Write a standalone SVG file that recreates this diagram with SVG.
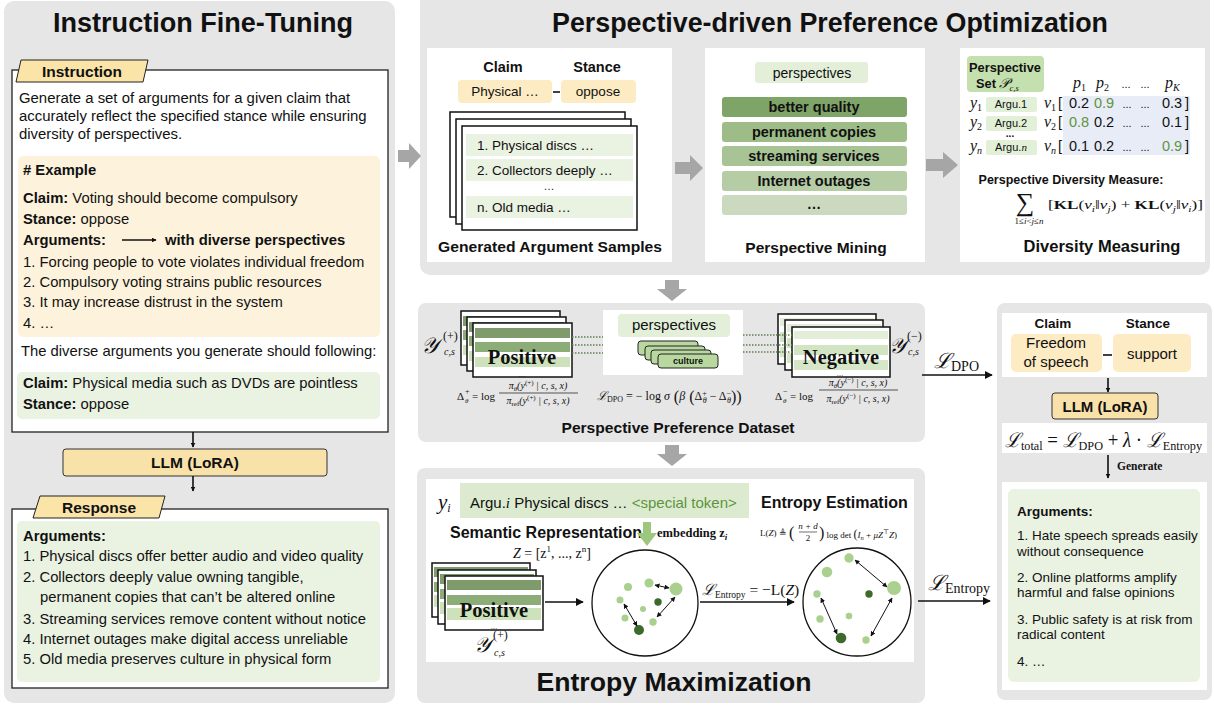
<svg xmlns="http://www.w3.org/2000/svg" width="1214" height="707" viewBox="0 0 1214 707">
<defs>
<marker id="ah" viewBox="0 0 10 10" refX="9" refY="5" markerWidth="8" markerHeight="8" orient="auto-start-reverse" markerUnits="userSpaceOnUse"><path d="M0,0 L10,5 L0,10 z" fill="#111"/></marker>
<marker id="ahs" viewBox="0 0 10 10" refX="9" refY="5" markerWidth="5" markerHeight="5" orient="auto-start-reverse" markerUnits="userSpaceOnUse"><path d="M0,0 L10,5 L0,10 z" fill="#111"/></marker>
</defs>
<style>
text{font-family:"Liberation Sans",Arial,sans-serif;fill:#111}
.b{font-weight:bold}
.m{font-family:"Liberation Serif","DejaVu Serif",serif}
.i{font-style:italic}
.c{text-anchor:middle}
.panel{fill:#e6e6e6}
.white{fill:#fff}
.yel{fill:#fdf3dc}
.grn{fill:#eaf2e2}
.card{fill:#fff;stroke:#111;stroke-width:1.5}
.blk{stroke:#111;stroke-width:1.6;fill:none}
.thin{stroke:#111;stroke-width:1;fill:none}
.garrow{fill:#a6a6a6}
.dot{stroke:#5f7f4f;stroke-width:1.6;stroke-dasharray:1.5 1.5;fill:none}
.lt{fill:#a9d08e}
.dk{fill:#3c6a2a}
.gtx{fill:#5e9440}
.body{font-size:14.8px}
</style>

<!-- ============ LEFT PANEL ============ -->
<g id="panel-instruction-fine-tuning">
<rect x="4" y="1" width="391" height="702" rx="10" class="panel"/>
<text x="203" y="32" class="b c" font-size="27" textLength="300" lengthAdjust="spacingAndGlyphs">Instruction Fine-Tuning</text>
</g>

<g id="instruction">
<rect x="12" y="70" width="376" height="362" fill="#fff" stroke="#222" stroke-width="1.3"/>
<polygon points="21,60 148,60 143,82 16,82" fill="#fbe4a8" stroke="#222" stroke-width="1"/>
<text x="82" y="77" class="b c" font-size="15.5">Instruction</text>
<text x="19" y="103" font-size="14.9">Generate a set of arguments for a given claim that</text>
<text x="19" y="121" font-size="14.9">accurately reflect the specified stance while ensuring</text>
<text x="19" y="139" font-size="14.9">diversity of perspectives.</text>
<rect x="18" y="156" width="362" height="181" rx="5" class="yel"/>
<text x="23" y="175" class="b body">#  Example</text>
<text x="23" y="203" class="body"><tspan class="b">Claim:</tspan> Voting should become compulsory</text>
<text x="23" y="224" class="body"><tspan class="b">Stance:</tspan> oppose</text>
<text x="23" y="245" class="b body">Arguments:</text>
<line x1="122" y1="240" x2="156" y2="240" class="blk" stroke-width="1.3" marker-end="url(#ahs)"/>
<text x="165" y="245" class="b body">with diverse perspectives</text>
<text x="23" y="267" class="body">1. Forcing people to vote violates individual freedom</text>
<text x="23" y="287" class="body">2. Compulsory voting strains public resources</text>
<text x="23" y="307" class="body">3. It may increase distrust in the system</text>
<text x="23" y="328" class="body">4. …</text>
<text x="21" y="356" class="body">The diverse arguments you generate should following:</text>
<rect x="17" y="372" width="363" height="47" rx="5" class="grn"/>
<text x="23" y="388" class="body"><tspan class="b">Claim:</tspan> Physical media such as DVDs are pointless</text>
<text x="23" y="409" class="body"><tspan class="b">Stance:</tspan> oppose</text>
</g>

<g id="llm-left">
<rect x="63" y="449" width="264" height="27" rx="3" fill="#f9e2a9" stroke="#333" stroke-width="1"/>
<text x="195" y="468" class="b c" font-size="15.5">LLM (LoRA)</text>
</g>

<g id="response">
<rect x="12" y="509" width="376" height="179" fill="#fff" stroke="#222" stroke-width="1.3"/>
<polygon points="40,496 165,496 159,518 33,518" fill="#fbe4a8" stroke="#222" stroke-width="1"/>
<text x="99" y="513" class="b c" font-size="15.5">Response</text>
<rect x="17" y="521" width="363" height="161" rx="5" class="grn"/>
<text x="23" y="541" class="b body">Arguments:</text>
<text x="23" y="561" class="body">1. Physical discs offer better audio and video quality</text>
<text x="23" y="582" class="body">2. Collectors deeply value owning tangible,</text>
<text x="40" y="602" class="body">permanent copies that can’t be altered online</text>
<text x="23" y="624" class="body">3. Streaming services remove content without notice</text>
<text x="23" y="644" class="body">4. Internet outages make digital access unreliable</text>
<text x="23" y="664" class="body">5. Old media preserves culture in physical form</text>
</g>

<!-- ============ TOP PANEL ============ -->
<g id="panel-perspective-driven">
<rect x="420" y="-8" width="790" height="283" rx="10" class="panel"/>
<text x="830" y="32" class="b c" font-size="27" textLength="556" lengthAdjust="spacingAndGlyphs">Perspective-driven Preference Optimization</text>
</g>

<g id="generated-argument-samples">
<rect x="427" y="48" width="245" height="214" class="white"/>
<text x="503" y="72" class="b c" font-size="14.5">Claim</text>
<text x="597" y="72" class="b c" font-size="14.5">Stance</text>
<rect x="458" y="80" width="94" height="23" rx="4" fill="#fcebc3"/>
<text x="505" y="96" class="c" font-size="13.5">Physical …</text>
<line x1="553" y1="92" x2="560" y2="92" class="blk"/>
<rect x="561" y="80" width="75" height="23" rx="4" fill="#fcebc3"/>
<text x="598" y="96" class="c" font-size="13.5">oppose</text>
<rect x="450" y="112" width="175" height="105" class="card"/>
<rect x="456" y="119" width="175" height="105" class="card"/>
<rect x="462" y="126" width="175" height="104" class="card"/>
<rect x="466" y="134" width="167" height="22" class="grn"/>
<rect x="466" y="159" width="167" height="22" class="grn"/>
<rect x="466" y="196" width="167" height="22" class="grn"/>
<text x="477" y="150" font-size="13.5">1. Physical discs …</text>
<text x="477" y="175" font-size="13.5">2. Collectors deeply …</text>
<text x="549" y="190" class="c" font-size="11">…</text>
<text x="477" y="212" font-size="13.5">n. Old media …</text>
<text x="550" y="252" class="b c" font-size="15.5" textLength="224" lengthAdjust="spacingAndGlyphs">Generated Argument Samples</text>
</g>

<g id="perspective-mining">
<rect x="705" y="48" width="220" height="214" class="white"/>
<rect x="755" y="62" width="113" height="21" rx="3" fill="#e3efd9"/>
<text x="812" y="78" class="c" font-size="14">perspectives</text>
<rect x="722" y="97" width="185" height="20" rx="3" fill="#7fa468"/>
<rect x="722" y="122" width="185" height="20" rx="3" fill="#9dbc88"/>
<rect x="722" y="146" width="185" height="20" rx="3" fill="#a8c495"/>
<rect x="722" y="171" width="185" height="20" rx="3" fill="#b5cca5"/>
<rect x="722" y="195" width="185" height="20" rx="3" fill="#cbdabf"/>
<text x="814" y="112" class="b c" font-size="14.5">better quality</text>
<text x="814" y="137" class="b c" font-size="14.5">permanent copies</text>
<text x="814" y="161" class="b c" font-size="14.5">streaming services</text>
<text x="814" y="186" class="b c" font-size="14.5">Internet outages</text>
<text x="814" y="209" class="b c" font-size="14.5">…</text>
<text x="816" y="253" class="b c" font-size="15.5">Perspective Mining</text>
</g>

<g id="diversity-measuring">
<rect x="960" y="48" width="245" height="214" class="white"/>
<rect x="967" y="56" width="77" height="36" rx="4" fill="#c4e0ae"/>
<text x="1005" y="72" class="b c" font-size="12.8">Perspective</text>
<text x="976" y="88" class="b" font-size="12.8">Set <tspan class="m i" font-weight="normal" font-size="14">𝒫</tspan><tspan class="m i" font-weight="normal" font-size="8.5" dy="3">c,s</tspan></text>
<rect x="1063" y="96" width="127" height="59" fill="#e8ecf7"/>
<text y="88" class="m i" font-size="16"><tspan x="1073">p</tspan><tspan font-size="10" dy="3" font-style="normal">1</tspan><tspan x="1096" dy="-3">p</tspan><tspan font-size="10" dy="3" font-style="normal">2</tspan></text>
<text x="1126" y="88" class="c" font-size="11">...</text>
<text x="1145" y="88" class="c" font-size="11">...</text>
<text y="88" class="m i" font-size="16"><tspan x="1165">p</tspan><tspan font-size="10" dy="3">K</tspan></text>
<rect x="986" y="97" width="51" height="15" rx="2" fill="#e3f0d8"/>
<rect x="986" y="116" width="51" height="15" rx="2" fill="#e3f0d8"/>
<rect x="986" y="140" width="51" height="15" rx="2" fill="#e3f0d8"/>
<text x="1011" y="108" class="c" font-size="11">Argu.1</text>
<text x="1011" y="127" class="c" font-size="11">Argu.2</text>
<text x="1011" y="151" class="c" font-size="11">Argu.<tspan class="m i">n</tspan></text>
<text x="1010" y="137" class="c b" font-size="10">...</text>
<text y="108" class="m i" font-size="16"><tspan x="970">y</tspan><tspan font-size="10" dy="3" font-style="normal">1</tspan></text>
<text y="127" class="m i" font-size="16"><tspan x="970">y</tspan><tspan font-size="10" dy="3" font-style="normal">2</tspan></text>
<text y="151" class="m i" font-size="16"><tspan x="970">y</tspan><tspan font-size="10" dy="3">n</tspan></text>
<text y="108" class="m i" font-size="16"><tspan x="1044">v</tspan><tspan font-size="10" dy="3" font-style="normal">1</tspan></text>
<text y="127" class="m i" font-size="16"><tspan x="1044">v</tspan><tspan font-size="10" dy="3" font-style="normal">2</tspan></text>
<text y="151" class="m i" font-size="16"><tspan x="1044">v</tspan><tspan font-size="10" dy="3">n</tspan></text>
<g font-size="14.5">
<text x="1058" y="108">[</text><text x="1079" y="108" class="c">0.2</text><text x="1104" y="108" class="c gtx">0.9</text><text x="1127" y="108" class="c" font-size="11">...</text><text x="1145" y="108" class="c" font-size="11">...</text><text x="1172" y="108" class="c">0.3</text><text x="1185" y="108">]</text>
<text x="1058" y="127">[</text><text x="1079" y="127" class="c gtx">0.8</text><text x="1104" y="127" class="c">0.2</text><text x="1127" y="127" class="c" font-size="11">...</text><text x="1145" y="127" class="c" font-size="11">...</text><text x="1172" y="127" class="c">0.1</text><text x="1185" y="127">]</text>
<text x="1058" y="151">[</text><text x="1079" y="151" class="c">0.1</text><text x="1104" y="151" class="c">0.2</text><text x="1127" y="151" class="c" font-size="11">...</text><text x="1145" y="151" class="c" font-size="11">...</text><text x="1172" y="151" class="c gtx">0.9</text><text x="1185" y="151">]</text>
</g>
<text x="1071" y="184" class="b c" font-size="12.5">Perspective Diversity Measure:</text>
<text x="1025" y="211" class="m c" font-size="26">∑</text>
<text x="1029" y="224" class="m c" font-size="9">1≤<tspan class="i">i</tspan>&lt;<tspan class="i">j</tspan>≤<tspan class="i">n</tspan></text>
<text x="1048" y="209" class="m" font-size="13.5" textLength="155" lengthAdjust="spacingAndGlyphs">[<tspan class="b">KL</tspan>(<tspan class="i">v</tspan><tspan font-size="9" dy="3" class="i">i</tspan><tspan dy="-3">‖</tspan><tspan class="i">v</tspan><tspan font-size="9" dy="3" class="i">j</tspan><tspan dy="-3">) + </tspan><tspan class="b">KL</tspan>(<tspan class="i">v</tspan><tspan font-size="9" dy="3" class="i">j</tspan><tspan dy="-3">‖</tspan><tspan class="i">v</tspan><tspan font-size="9" dy="3" class="i">i</tspan><tspan dy="-3">)]</tspan></text>
<text x="1102" y="252" class="b c" font-size="16.5">Diversity Measuring</text>
</g>

<!-- ============ PPD PANEL ============ -->
<g id="panel-perspective-preference-dataset">
<rect x="418" y="303" width="507" height="139" rx="8" class="panel"/>
<text x="678" y="433" class="b c" font-size="15.5" textLength="233" lengthAdjust="spacingAndGlyphs">Perspective Preference Dataset</text>
</g>

<g id="positive-samples">
<rect x="461" y="311" width="99" height="54" class="card"/>
<rect x="463" y="316" width="95" height="10" fill="#7f9b6c"/><rect x="463" y="330" width="95" height="10" fill="#8cad77"/><rect x="463" y="345" width="95" height="10" fill="#cde2ba"/>
<rect x="467" y="317" width="99" height="54" class="card"/>
<rect x="469" y="322" width="95" height="10" fill="#7f9b6c"/><rect x="469" y="336" width="95" height="10" fill="#8cad77"/><rect x="469" y="351" width="95" height="10" fill="#cde2ba"/>
<rect x="473" y="323" width="99" height="54" class="card"/>
<rect x="475" y="328" width="95" height="10" fill="#7f9b6c"/><rect x="475" y="342" width="95" height="10" fill="#8cad77"/><rect x="475" y="357" width="95" height="10" fill="#cde2ba"/>
<text x="522" y="364" class="m b c" font-size="20.5">Positive</text>
<text x="522" y="377" class="c" font-size="7">…</text>
<text x="421" y="353" class="m i" font-size="22">𝒴</text>
<text x="443" y="340" class="m" font-size="12">(+)</text>
<text x="444" y="355" class="m i" font-size="10">c,s</text>
<text x="457" y="400" class="m" font-size="11">Δ</text><text x="465" y="394" class="m" font-size="8">+</text><text x="465" y="403" class="m i" font-size="7">θ</text>
<text x="472" y="400" class="m" font-size="11">= log</text>
<text x="538" y="389" class="m i c" font-size="10">π<tspan font-size="7" dy="2">θ</tspan><tspan dy="-2">(y</tspan><tspan font-size="7" dy="-4" font-style="normal">(+)</tspan><tspan dy="4"> | c, s, x)</tspan></text>
<line x1="499" y1="393" x2="578" y2="393" stroke="#111" stroke-width="0.7"/>
<text x="538" y="404" class="m i c" font-size="10">π<tspan font-size="7" dy="2" font-style="normal">ref</tspan><tspan dy="-2">(y</tspan><tspan font-size="7" dy="-4" font-style="normal">(+)</tspan><tspan dy="4"> | c, s, x)</tspan></text>
</g>

<g id="perspectives-set">
<rect x="603" y="310" width="140" height="65" class="white"/>
<rect x="618" y="314" width="112" height="23" rx="4" fill="#e3efd9"/>
<text x="674" y="330" class="c" font-size="15">perspectives</text>
<rect x="638" y="341" width="60" height="14" rx="3" fill="#b8d8a0" stroke="#222" stroke-width="1"/>
<rect x="645" y="346" width="60" height="14" rx="3" fill="#b8d8a0" stroke="#222" stroke-width="1"/>
<rect x="651" y="350" width="60" height="14" rx="3" fill="#b8d8a0" stroke="#222" stroke-width="1"/>
<rect x="658" y="354" width="60" height="14" rx="3" fill="#b8d8a0" stroke="#222" stroke-width="1"/>
<text x="688" y="364" class="b c" font-size="9">culture</text>
<text x="597" y="400" class="m" font-size="12"><tspan class="i">ℒ</tspan><tspan font-size="8" dy="2">DPO</tspan><tspan dy="-2"> = − log </tspan><tspan class="i">σ</tspan><tspan font-size="16" dy="2"> (</tspan><tspan class="i" dy="-2">β</tspan><tspan font-size="16" dy="2"> (</tspan><tspan dy="-2">Δ</tspan><tspan font-size="8" dy="-4">+</tspan><tspan font-size="8" class="i" dx="-4" dy="7">θ</tspan><tspan dy="-3"> − Δ</tspan><tspan font-size="8" dy="-4">−</tspan><tspan font-size="8" class="i" dx="-4" dy="7">θ</tspan><tspan font-size="16" dy="-1">))</tspan></text>
</g>

<g id="negative-samples">
<rect x="778" y="314" width="98" height="50" class="card"/>
<rect x="780" y="318" width="94" height="8" fill="#e2eed8"/><rect x="780" y="332" width="94" height="10" fill="#d2e5c3"/><rect x="780" y="347" width="94" height="10" fill="#d5e7c6"/>
<rect x="785" y="320" width="98" height="50" class="card"/>
<rect x="787" y="324" width="94" height="8" fill="#e2eed8"/><rect x="787" y="338" width="94" height="10" fill="#d2e5c3"/><rect x="787" y="353" width="94" height="10" fill="#d5e7c6"/>
<rect x="792" y="327" width="98" height="50" class="card"/>
<rect x="794" y="331" width="94" height="8" fill="#e2eed8"/><rect x="794" y="345" width="94" height="10" fill="#d2e5c3"/><rect x="794" y="360" width="94" height="10" fill="#d5e7c6"/>
<text x="841" y="364" class="m b c" font-size="20.5">Negative</text>
<text x="840" y="376" class="c" font-size="7">…</text>
<text x="889" y="353" class="m i" font-size="21">𝒴</text>
<text x="907" y="340" class="m" font-size="12">(−)</text>
<text x="908" y="355" class="m i" font-size="10">c,s</text>
<text x="775" y="400" class="m" font-size="11">Δ</text><text x="783" y="394" class="m" font-size="8">−</text><text x="783" y="403" class="m i" font-size="7">θ</text>
<text x="790" y="400" class="m" font-size="11">= log</text>
<text x="858" y="386" class="m i c" font-size="10">π<tspan font-size="7" dy="2">θ</tspan><tspan dy="-2">(y</tspan><tspan font-size="7" dy="-4" font-style="normal">(−)</tspan><tspan dy="4"> | c, s, x)</tspan></text>
<line x1="819" y1="390" x2="898" y2="390" stroke="#111" stroke-width="0.7"/>
<text x="858" y="402" class="m i c" font-size="10">π<tspan font-size="7" dy="2" font-style="normal">ref</tspan><tspan dy="-2">(y</tspan><tspan font-size="7" dy="-4" font-style="normal">(−)</tspan><tspan dy="4"> | c, s, x)</tspan></text>
</g>

<!-- ============ ENTROPY PANEL ============ -->
<g id="panel-entropy-maximization">
<rect x="417" y="468" width="508" height="235" rx="8" class="panel"/>
<rect x="426" y="479" width="488" height="183" class="white"/>
<text x="674" y="691" class="b c" font-size="26" textLength="275" lengthAdjust="spacingAndGlyphs">Entropy Maximization</text>
</g>

<g id="semantic-representation">
<text x="438" y="509" class="m i" font-size="21">y<tspan font-size="12" dy="3">i</tspan></text>
<rect x="460" y="483" width="289" height="35" fill="#dcebd0"/>
<text x="470" y="508" font-size="15">Argu.<tspan class="m i">i</tspan> Physical discs … <tspan class="gtx">&lt;special token&gt;</tspan></text>
<text x="450" y="538" class="b" font-size="16">Semantic Representation</text>
<polygon points="643,522 651,522 651,533 657,533 647,546 637,533 643,533" fill="#9cc77c"/>
<text x="657" y="537" class="m b" font-size="12.5">embedding z<tspan font-size="9" dy="3" class="i">i</tspan></text>
<text x="513" y="558" class="m" font-size="14"><tspan class="i">Z</tspan> = [z<tspan font-size="9" dy="-6">1</tspan><tspan dy="6">, ..., z</tspan><tspan font-size="9" dy="-6">n</tspan><tspan dy="6">]</tspan></text>
</g>

<g id="entropy-estimation">
<text x="761" y="508" class="b" font-size="16">Entropy Estimation</text>
<text x="760" y="536" class="m" font-size="9">L(<tspan class="i">Z</tspan>) ≜ <tspan font-size="16" dy="2">(</tspan></text>
<text x="808" y="529" class="m i c" font-size="9">n + d</text>
<line x1="799" y1="532" x2="817" y2="532" stroke="#111" stroke-width="0.6"/>
<text x="808" y="541" class="m c" font-size="9">2</text>
<text x="819" y="538" class="m" font-size="9"><tspan font-size="16">)</tspan> log det <tspan font-size="12">(</tspan><tspan class="i">I</tspan><tspan font-size="6.5" dy="2" class="i">n</tspan><tspan dy="-2"> + </tspan><tspan class="i">μZ</tspan><tspan font-size="6.5" dy="-4">⊤</tspan><tspan dy="4" class="i">Z</tspan>)</text>
</g>

<g id="positive-entropy">
<rect x="432" y="563" width="98" height="54" class="card"/>
<rect x="434" y="567" width="94" height="10" fill="#7f9b6c"/><rect x="434" y="582" width="94" height="10" fill="#8cad77"/><rect x="434" y="595" width="94" height="12" fill="#cde2ba"/>
<rect x="438" y="570" width="98" height="54" class="card"/>
<rect x="440" y="574" width="94" height="10" fill="#7f9b6c"/><rect x="440" y="589" width="94" height="10" fill="#8cad77"/><rect x="440" y="602" width="94" height="12" fill="#cde2ba"/>
<rect x="445" y="576" width="98" height="54" class="card"/>
<rect x="447" y="580" width="94" height="10" fill="#7f9b6c"/><rect x="447" y="595" width="94" height="10" fill="#8cad77"/><rect x="447" y="608" width="94" height="12" fill="#cde2ba"/>
<text x="494" y="617" class="m b c" font-size="20.5">Positive</text>
<text x="494" y="629" class="c" font-size="7">…</text>
<text x="474" y="652" class="m i" font-size="21">𝒴</text>
<text x="493" y="639" class="m" font-size="12">(+)</text>
<text x="494" y="656" class="m i" font-size="10">c,s</text>
</g>

<g id="embedding-space-before">
<circle cx="645" cy="603" r="53" fill="#fff" stroke="#111" stroke-width="1.3"/>
<circle cx="628" cy="587" r="4" class="lt"/>
<circle cx="649" cy="583" r="4.5" class="lt"/>
<circle cx="676" cy="589" r="6.5" class="lt"/>
<circle cx="620" cy="600" r="3.5" class="lt"/>
<circle cx="658" cy="602" r="3.7" class="dk"/>
<circle cx="643" cy="609" r="3" class="lt"/>
<circle cx="625" cy="618" r="3.5" class="lt"/>
<circle cx="653" cy="622" r="3.7" class="lt"/>
<circle cx="639" cy="630" r="5" class="dk"/>
<line x1="655" y1="585" x2="669" y2="588" class="thin" stroke-width="0.8" marker-start="url(#ahs)" marker-end="url(#ahs)"/>
<line x1="624" y1="604" x2="637" y2="626" class="thin" stroke-width="0.8" marker-start="url(#ahs)" marker-end="url(#ahs)"/>
<line x1="657" y1="617" x2="675" y2="597" class="thin" stroke-width="0.8" marker-start="url(#ahs)" marker-end="url(#ahs)"/>
</g>

<g id="embedding-space-after">
<circle cx="857" cy="602" r="54" fill="#fff" stroke="#111" stroke-width="1.3"/>
<circle cx="849" cy="558" r="4.7" class="lt"/>
<circle cx="827" cy="572" r="5.3" class="lt"/>
<circle cx="894" cy="588" r="7" class="lt"/>
<circle cx="817" cy="594" r="3.7" class="lt"/>
<circle cx="869" cy="594" r="3.7" class="dk"/>
<circle cx="820" cy="619" r="3.7" class="lt"/>
<circle cx="849" cy="616" r="3.3" class="lt"/>
<circle cx="841" cy="638" r="5.3" class="dk"/>
<circle cx="866" cy="640" r="3.7" class="lt"/>
<line x1="855" y1="560" x2="887" y2="587" class="thin" stroke-width="0.8" marker-start="url(#ahs)" marker-end="url(#ahs)"/>
<line x1="821" y1="598" x2="837" y2="634" class="thin" stroke-width="0.8" marker-start="url(#ahs)" marker-end="url(#ahs)"/>
<line x1="871" y1="636" x2="892" y2="598" class="thin" stroke-width="0.8" marker-start="url(#ahs)" marker-end="url(#ahs)"/>
</g>

<!-- ============ RIGHT PANEL ============ -->
<g id="panel-inference">
<rect x="997" y="303" width="215" height="397" rx="8" class="panel"/>
</g>
<g id="claim-stance-input">
<rect x="1002" y="313" width="205" height="64" class="white"/>
<text x="1053" y="328" class="b c" font-size="13.5">Claim</text>
<text x="1148" y="328" class="b c" font-size="13.5">Stance</text>
<rect x="1011" y="334" width="91" height="38" rx="5" fill="#fcebc3"/>
<text x="1056" y="348" class="c" font-size="15">Freedom</text>
<text x="1056" y="367" class="c" font-size="15">of speech</text>
<line x1="1103" y1="355" x2="1112" y2="355" class="blk"/>
<rect x="1113" y="334" width="78" height="38" rx="5" fill="#fcebc3"/>
<text x="1152" y="359" class="c" font-size="15">support</text>
</g>
<g id="llm-right">
<rect x="1052" y="393" width="106" height="26" rx="3" fill="#f9e2a9" stroke="#333" stroke-width="1"/>
<text x="1105" y="412" class="b c" font-size="15">LLM (LoRA)</text>
</g>
<g id="total-loss">
<rect x="1002" y="423" width="205" height="30" class="white"/>
<text x="1005" y="447" class="m" font-size="20" textLength="197" lengthAdjust="spacingAndGlyphs"><tspan class="i">ℒ</tspan><tspan font-size="13" dy="3">total</tspan><tspan dy="-3"> = </tspan><tspan class="i">ℒ</tspan><tspan font-size="13" dy="3">DPO</tspan><tspan dy="-3"> + </tspan><tspan class="i">λ</tspan> · <tspan class="i">ℒ</tspan><tspan font-size="13" dy="3">Entropy</tspan></text>
</g>
<g id="generated-arguments">
<rect x="1002" y="482" width="205" height="208" class="white"/>
<rect x="1008" y="489" width="192" height="193" rx="6" class="grn"/>
<text x="1017" y="516" class="b" font-size="13.5">Arguments:</text>
<text x="1017" y="540" font-size="13.5">1. Hate speech spreads easily</text>
<text x="1017" y="556" font-size="13.5">without consequence</text>
<text x="1017" y="582" font-size="13.5">2. Online platforms amplify</text>
<text x="1017" y="597" font-size="13.5">harmful and false opinions</text>
<text x="1017" y="624" font-size="13.5">3. Public safety is at risk from</text>
<text x="1017" y="639" font-size="13.5">radical content</text>
<text x="1017" y="666" font-size="13.5">4. …</text>
</g>

<!-- ============ CONNECTORS ============ -->
<g id="connectors">
<line x1="193" y1="432" x2="193" y2="447" class="blk" stroke-width="1.5" marker-end="url(#ahs)"/>
<line x1="193" y1="476" x2="193" y2="491" class="blk" stroke-width="1.5" marker-end="url(#ahs)"/>
<polygon points="398,150 409,150 409,143 421,156 409,169 409,162 398,162" class="garrow"/>
<polygon points="675,162 690,162 690,155 703,168 690,181 690,174 675,174" class="garrow"/>
<polygon points="926,159 943,159 943,152 958,165 943,178 943,171 926,171" class="garrow"/>
<polygon points="665,280 679,280 679,289 687,289 672,301 657,289 665,289" class="garrow"/>
<polygon points="665,445 679,445 679,454 687,454 672,466 657,454 665,454" class="garrow"/>
<line x1="572" y1="337" x2="603" y2="337" class="dot"/>
<line x1="572" y1="345" x2="603" y2="345" class="dot"/>
<line x1="572" y1="353" x2="603" y2="353" class="dot"/>
<line x1="743" y1="335" x2="792" y2="335" class="dot"/>
<line x1="743" y1="345" x2="792" y2="345" class="dot"/>
<line x1="743" y1="352" x2="792" y2="352" class="dot"/>
<line x1="922" y1="375" x2="992" y2="375" class="blk" stroke-width="1.8" marker-end="url(#ah)"/>
<text x="934" y="368" class="m" font-size="21"><tspan class="i">ℒ</tspan><tspan font-size="14" dy="3">DPO</tspan></text>
<line x1="545" y1="602" x2="583" y2="602" class="blk" stroke-width="1.8" marker-end="url(#ah)"/>
<line x1="700" y1="602" x2="794" y2="602" class="blk" stroke-width="1.8" marker-end="url(#ah)"/>
<text x="702" y="595" class="m" font-size="15.5"><tspan class="i">ℒ</tspan><tspan font-size="9.5" dy="3">Entropy</tspan><tspan dy="-3"> = −L(</tspan><tspan class="i">Z</tspan>)</text>
<line x1="918" y1="601" x2="990" y2="601" class="blk" stroke-width="1.8" marker-end="url(#ah)"/>
<text x="928" y="590" class="m" font-size="21"><tspan class="i">ℒ</tspan><tspan font-size="14" dy="3">Entropy</tspan></text>
<line x1="1108" y1="378" x2="1108" y2="392" class="blk" stroke-width="1.6" marker-end="url(#ahs)"/>
<line x1="1108" y1="455" x2="1108" y2="478" class="blk" stroke-width="1.6" marker-end="url(#ahs)"/>
<text x="1117" y="470" class="m b" font-size="11.5">Generate</text>
</g>
</svg>
